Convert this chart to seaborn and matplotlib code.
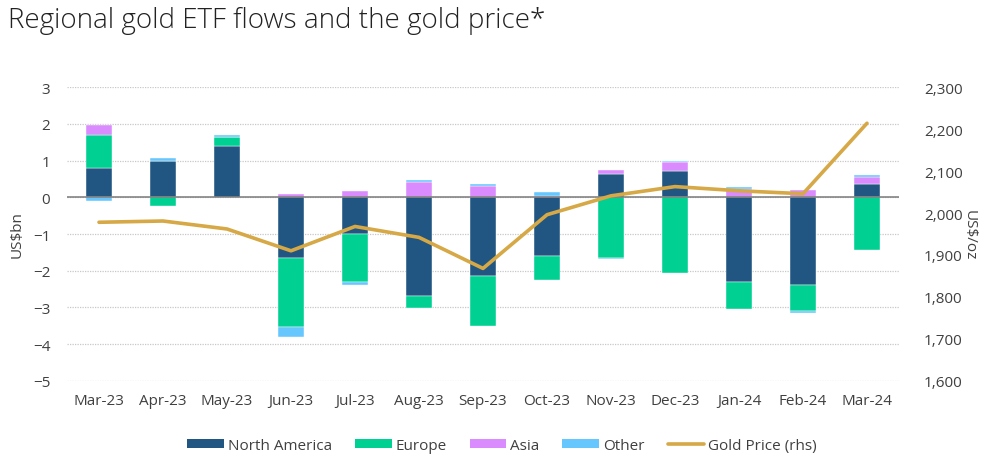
import numpy as np
import pandas as pd
import matplotlib
matplotlib.use("Agg")
import matplotlib.pyplot as plt
import seaborn as sns
from matplotlib.patches import Patch
from matplotlib.lines import Line2D

# -----------------------------
# Data
# -----------------------------
months = ["Mar-23", "Apr-23", "May-23", "Jun-23", "Jul-23", "Aug-23", "Sep-23",
          "Oct-23", "Nov-23", "Dec-23", "Jan-24", "Feb-24", "Mar-24"]
north_america = [0.79, 0.98, 1.40, -1.65, -1.00, -2.69, -2.15, -1.61, 0.64, 0.71, -2.30, -2.38, 0.36]
europe = [0.92, -0.24, 0.23, -1.88, -1.30, -0.32, -1.36, -0.63, -1.64, -2.05, -0.75, -0.73, -1.44]
asia = [0.25, 0.00, 0.00, 0.08, 0.16, 0.41, 0.30, 0.03, 0.10, 0.24, 0.23, 0.19, 0.20]
other = [-0.09, 0.09, 0.07, -0.28, -0.10, 0.05, 0.05, 0.12, -0.03, 0.05, 0.04, -0.05, 0.05]
gold_price = [1978, 1981, 1962, 1910, 1968, 1942, 1868, 1996, 2041, 2063, 2053, 2046, 2214]

series_names = ["North America", "Europe", "Asia", "Other"]
colors = {"North America": "#215682", "Europe": "#00D092",
          "Asia": "#DA8BFD", "Other": "#66C7FF"}
gold_color = "#D6A846"

df = pd.DataFrame({"month": months, "North America": north_america,
                   "Europe": europe, "Asia": asia, "Other": other})

# -----------------------------
# Styling
# -----------------------------
sns.set_style("white")
plt.rcParams["font.family"] = ["Open Sans", "DejaVu Sans"]
text_color = "#404040"

fig = plt.figure(figsize=(10, 4.64), dpi=100)
ax = fig.add_axes([0.067, 0.177, 0.832, 0.633])
ax2 = ax.twinx()

x = np.arange(len(months))
width = 0.42

# stacked bars: positives build up from zero, negatives build down
pos_base = np.zeros(len(months))
neg_base = np.zeros(len(months))
for name in series_names:
    vals = df[name].to_numpy()
    bottoms = np.where(vals >= 0, pos_base, neg_base)
    ax.bar(x, vals, width=width, bottom=bottoms, color=colors[name],
           edgecolor="white", linewidth=0.3, zorder=3)
    pos_base = pos_base + np.where(vals >= 0, vals, 0)
    neg_base = neg_base + np.where(vals < 0, vals, 0)

ax.set_ylim(-5, 3)
ax.set_xlim(-0.5, len(months) - 0.5)
ax.set_yticks(range(-5, 4))
ax.set_xticks(x)
ax.set_xticklabels(months)
ax.yaxis.grid(True, linestyle=(0, (1, 1)), color="#c8c8c8", linewidth=0.9, zorder=0)
ax.axhline(0, color="#7a7a7a", linewidth=1.1, zorder=4)
ax.set_ylabel("US$bn", fontsize=11, color=text_color, labelpad=6)

# gold price line on the right axis
gold_df = pd.DataFrame({"pos": x, "price": gold_price})
sns.lineplot(data=gold_df, x="pos", y="price", ax=ax2, color=gold_color,
             linewidth=2.6, zorder=5)
ax2.set_ylim(1600, 2300)
ax2.set_yticks(range(1600, 2301, 100))
ax2.set_yticklabels([f"{v:,}" for v in range(1600, 2301, 100)])
ax2.set_xlim(-0.5, len(months) - 0.5)
ax2.set_xlabel("")
ax2.set_ylabel("US$/oz", fontsize=11, color=text_color, rotation=270, labelpad=10)

for a in (ax, ax2):
    for s in a.spines.values():
        s.set_visible(False)
    a.tick_params(axis="both", length=0, labelsize=11, colors=text_color)
ax.tick_params(axis="x", pad=9)
ax.tick_params(axis="y", pad=12)
ax2.tick_params(axis="y", pad=18)

fig.text(0.008, 0.955, "Regional gold ETF flows and the gold price*", fontsize=20,
         fontweight="light", color="#222222", va="center", ha="left")

handles = [Patch(facecolor=colors[n], edgecolor="none") for n in series_names]
handles.append(Line2D([0], [0], color=gold_color, linewidth=2.6))
labels = series_names + ["Gold Price (rhs)"]
fig.legend(handles, labels, loc="center", bbox_to_anchor=(0.502, 0.038), ncol=5,
           frameon=False, fontsize=11, handlelength=2.4, handleheight=0.55,
           handletextpad=0.26, columnspacing=1.5, labelcolor=text_color)

fig.savefig("out.png", dpi=100)
